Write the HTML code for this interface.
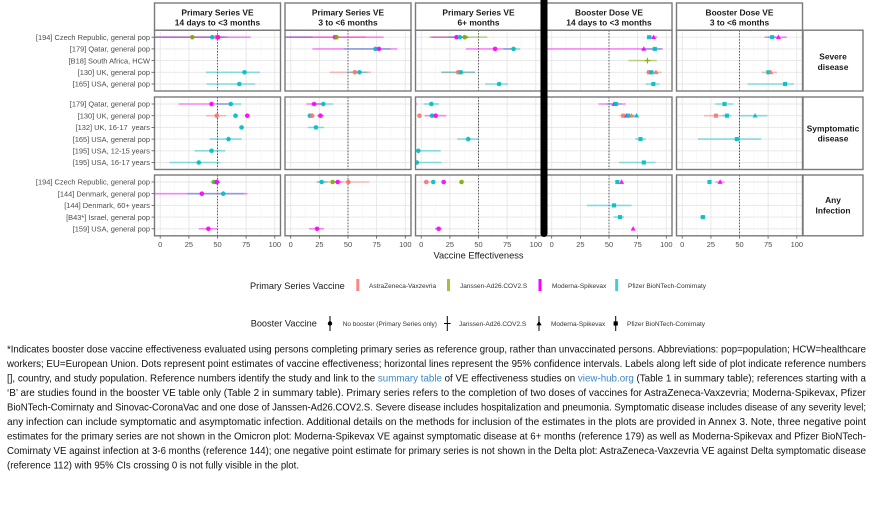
<!DOCTYPE html>
<html><head><meta charset="utf-8"><style>
html,body{margin:0;padding:0;background:#fff;}
svg{display:block;font-family:"Liberation Sans",Arial,sans-serif;}
.e{stroke-width:1.6px;stroke-opacity:.45;vector-effect:non-scaling-stroke;}
.lR{stroke:#F8766D}.lG{stroke:#7CAE00}.lM{stroke:#FF00FF}.lT{stroke:#00BFC4}
.fR{fill:#F8766D}.fG{fill:#7CAE00}.fM{fill:#FF00FF}.fT{fill:#00BFC4}
.p{opacity:.92}
.gM{stroke:#e6e6e6;stroke-width:.9px;vector-effect:non-scaling-stroke}
.gm{stroke:#f3f3f3;stroke-width:.5px;vector-effect:non-scaling-stroke}
.dt{stroke:#555;stroke-width:.8px;stroke-dasharray:1.3 1.3;}
.pb{fill:none;stroke:#7a7a7a;stroke-width:1.4}
.hd{font-weight:bold;font-size:8.4px;fill:#1a1a1a;text-anchor:middle}
.yl{font-size:7.45px;fill:#4d4d4d;text-anchor:end}
.xl{font-size:7.45px;fill:#4d4d4d;text-anchor:middle}
.tk{stroke:#555;stroke-width:.8}
.lk{font-size:6.5px;fill:#333}
.lt{font-size:9.2px;fill:#1a1a1a}
.nt{font-family:"Liberation Sans",Arial,sans-serif;font-size:10.5px;fill:#111}
.bl{fill:#3a87c8}
</style></head><body>
<svg width="876" height="505" viewBox="0 0 876 505" xmlns="http://www.w3.org/2000/svg">
<defs>
<g id="gv">
<line class="gm" x1="12.5" x2="12.5" y1="0" y2="70"/><line class="gm" x1="37.5" x2="37.5" y1="0" y2="70"/><line class="gm" x1="62.5" x2="62.5" y1="0" y2="70"/><line class="gm" x1="87.5" x2="87.5" y1="0" y2="70"/>
<line class="gM" x1="0" x2="0" y1="0" y2="70"/><line class="gM" x1="25" x2="25" y1="0" y2="70"/><line class="gM" x1="50" x2="50" y1="0" y2="70"/><line class="gM" x1="75" x2="75" y1="0" y2="70"/><line class="gM" x1="100" x2="100" y1="0" y2="70"/>
</g>
<g id="g5"><use href="#gv"/>
<line class="gM" x1="-6" x2="106" y1="6.11" y2="6.11"/><line class="gM" x1="-6" x2="106" y1="16.32" y2="16.32"/><line class="gM" x1="-6" x2="106" y1="26.54" y2="26.54"/><line class="gM" x1="-6" x2="106" y1="36.75" y2="36.75"/><line class="gM" x1="-6" x2="106" y1="46.97" y2="46.97"/>
<line class="dt" x1="50" x2="50" y1="0" y2="70"/>
</g>
<g id="g6"><use href="#g5"/><line class="gM" x1="-6" x2="106" y1="57.18" y2="57.18"/><line class="dt" x1="50" x2="50" y1="0" y2="70"/></g>
<circle id="c" r="2"/>
<path id="tr" d="M0,-2.4L2.2,1.6L-2.2,1.6Z"/>
<rect id="sq" x="-1.8" y="-1.8" width="3.6" height="3.6"/>
<path id="cr" d="M-2.5,0H2.5M0,-2.5V2.5" stroke-width="0.9" fill="none"/>
</defs>

<!-- headers -->
<rect x="154.5" y="3" width="126" height="27.2" fill="#fff" class="pb"/>
<rect x="285" y="3" width="126" height="27.2" fill="#fff" class="pb"/>
<rect x="415.5" y="3" width="126" height="27.2" fill="#fff" class="pb"/>
<rect x="546" y="3" width="126" height="27.2" fill="#fff" class="pb"/>
<rect x="676.5" y="3" width="126" height="27.2" fill="#fff" class="pb"/>
<text class="hd" x="217.5" y="15.3">Primary Series VE</text><text class="hd" x="217.5" y="25.7">14 days to &lt;3 months</text>
<text class="hd" x="348" y="15.3">Primary Series VE</text><text class="hd" x="348" y="25.7">3 to &lt;6 months</text>
<text class="hd" x="478.5" y="15.3">Primary Series VE</text><text class="hd" x="478.5" y="25.7">6+ months</text>
<text class="hd" x="609" y="15.3">Booster Dose VE</text><text class="hd" x="609" y="25.7">14 days to &lt;3 months</text>
<text class="hd" x="739.5" y="15.3">Booster Dose VE</text><text class="hd" x="739.5" y="25.7">3 to &lt;6 months</text>

<!-- right strips -->
<rect x="803" y="30.2" width="60" height="60.8" fill="#fff" class="pb"/>
<rect x="803" y="97" width="60" height="72.5" fill="#fff" class="pb"/>
<rect x="803" y="175" width="60" height="60.8" fill="#fff" class="pb"/>
<text class="hd" x="833" y="59.7">Severe</text><text class="hd" x="833" y="69.9">disease</text>
<text class="hd" x="833" y="131.3">Symptomatic</text><text class="hd" x="833" y="141.7">disease</text>
<text class="hd" x="833" y="203">Any</text><text class="hd" x="833" y="213.7">Infection</text>

<!-- ===== Panel 1 ===== -->
<svg x="154.5" y="30.2" width="126" height="60.8" viewBox="-5 0 110 53.08" preserveAspectRatio="none">
<use href="#g5"/>
<line class="e lR" x1="-6" x2="56" y1="6.11" y2="6.11"/><line class="e lT" x1="-6" x2="59" y1="6.11" y2="6.11"/><line class="e lM" x1="-6" x2="79" y1="6.11" y2="6.11"/>
<line class="e lT" x1="40" x2="87" y1="36.75" y2="36.75"/><line class="e lT" x1="40.4" x2="83" y1="46.97" y2="46.97"/>
<use href="#c" x="28" y="6.11" class="fG p"/><use href="#c" x="45.4" y="6.11" class="fT p"/><use href="#c" x="49" y="6.11" class="fR p"/><use href="#c" x="50.5" y="6.11" class="fM p"/>
<use href="#c" x="73.6" y="36.75" class="fT p"/><use href="#c" x="69" y="46.97" class="fT p"/>
</svg>
<svg x="154.5" y="97" width="126" height="72.5" viewBox="-5 0 110 63.29" preserveAspectRatio="none">
<use href="#g6"/>
<line class="e lM" x1="16" x2="63" y1="6.11" y2="6.11"/><line class="e lT" x1="49" x2="70.7" y1="6.11" y2="6.11"/>
<line class="e lR" x1="40" x2="57.6" y1="16.32" y2="16.32"/><line class="e lT" x1="64" x2="68" y1="16.32" y2="16.32"/><line class="e lM" x1="74" x2="78" y1="16.32" y2="16.32"/>
<line class="e lT" x1="69" x2="73" y1="26.54" y2="26.54"/><line class="e lT" x1="43" x2="71.2" y1="36.75" y2="36.75"/><line class="e lT" x1="30" x2="56.7" y1="46.97" y2="46.97"/><line class="e lT" x1="8" x2="52.4" y1="57.18" y2="57.18"/>
<use href="#c" x="44.8" y="6.11" class="fM p"/><use href="#c" x="61.6" y="6.11" class="fT p"/>
<use href="#c" x="49.4" y="16.32" class="fR p"/><use href="#c" x="65.7" y="16.32" class="fT p"/><use href="#c" x="76" y="16.32" class="fM p"/>
<use href="#c" x="71" y="26.54" class="fT p"/><use href="#c" x="59.6" y="36.75" class="fT p"/><use href="#c" x="44.8" y="46.97" class="fT p"/><use href="#c" x="33.7" y="57.18" class="fT p"/>
</svg>
<svg x="154.5" y="175" width="126" height="60.8" viewBox="-5 0 110 53.08" preserveAspectRatio="none">
<use href="#g5"/>
<line class="e lT" x1="44" x2="53" y1="6.11" y2="6.11"/><line class="e lM" x1="46" x2="52" y1="6.11" y2="6.11"/>
<line class="e lM" x1="-6" x2="76" y1="16.32" y2="16.32"/><line class="e lT" x1="23.5" x2="73" y1="16.32" y2="16.32"/>
<line class="e lM" x1="33.7" x2="50.3" y1="46.97" y2="46.97"/>
<use href="#c" x="46.8" y="6.11" class="fG p"/><use href="#c" x="48.9" y="6.11" class="fT p"/><use href="#c" x="49.5" y="6.11" class="fM p"/>
<use href="#c" x="36.3" y="16.32" class="fM p"/><use href="#c" x="55" y="16.32" class="fT p"/><use href="#c" x="42" y="46.97" class="fM p"/>
</svg>

<!-- ===== Panel 2 ===== -->
<svg x="285" y="30.2" width="126" height="60.8" viewBox="-5 0 110 53.08" preserveAspectRatio="none">
<use href="#g5"/>
<line class="e lR" x1="-6" x2="66" y1="6.11" y2="6.11"/><line class="e lT" x1="-6" x2="19" y1="6.11" y2="6.11"/><line class="e lM" x1="-6" x2="81" y1="6.11" y2="6.11"/>
<line class="e lM" x1="19" x2="93" y1="16.32" y2="16.32"/><line class="e lT" x1="46.8" x2="87" y1="16.32" y2="16.32"/>
<line class="e lR" x1="34" x2="70" y1="36.75" y2="36.75"/><line class="e lT" x1="49" x2="67" y1="36.75" y2="36.75"/>
<use href="#c" x="38.6" y="6.11" class="fM p"/><use href="#c" x="40" y="6.11" class="fG p"/>
<use href="#c" x="74" y="16.32" class="fT p"/><use href="#c" x="77" y="16.32" class="fM p"/>
<use href="#c" x="56" y="36.75" class="fR p"/><use href="#c" x="60" y="36.75" class="fT p"/>
</svg>
<svg x="285" y="97" width="126" height="72.5" viewBox="-5 0 110 63.29" preserveAspectRatio="none">
<use href="#g6"/>
<line class="e lT" x1="18" x2="37" y1="6.11" y2="6.11"/><line class="e lM" x1="13.7" x2="27" y1="6.11" y2="6.11"/>
<line class="e lT" x1="15" x2="19" y1="16.32" y2="16.32"/><line class="e lM" x1="23" x2="29" y1="16.32" y2="16.32"/>
<line class="e lT" x1="15" x2="29" y1="26.54" y2="26.54"/>
<use href="#c" x="28.4" y="6.11" class="fT p"/><use href="#c" x="20.4" y="6.11" class="fM p"/>
<use href="#c" x="16.7" y="16.32" class="fT p"/><use href="#c" x="18.7" y="16.32" class="fR p"/><use href="#c" x="26" y="16.32" class="fM p"/>
<use href="#c" x="22" y="26.54" class="fT p"/>
</svg>
<svg x="285" y="175" width="126" height="60.8" viewBox="-5 0 110 53.08" preserveAspectRatio="none">
<use href="#g5"/>
<line class="e lR" x1="22.5" x2="68.7" y1="6.11" y2="6.11"/><line class="e lT" x1="23" x2="32" y1="6.11" y2="6.11"/><line class="e lM" x1="38" x2="45" y1="6.11" y2="6.11"/>
<line class="e lM" x1="16" x2="29" y1="46.97" y2="46.97"/>
<use href="#c" x="27" y="6.11" class="fT p"/><use href="#c" x="36.6" y="6.11" class="fG p"/><use href="#c" x="41" y="6.11" class="fM p"/><use href="#c" x="50.3" y="6.11" class="fR p"/>
<use href="#c" x="23" y="46.97" class="fM p"/>
</svg>

<!-- ===== Panel 3 ===== -->
<svg x="415.5" y="30.2" width="126" height="60.8" viewBox="-5 0 110 53.08" preserveAspectRatio="none">
<use href="#g5"/>
<line class="e lG" x1="7" x2="57.8" y1="6.11" y2="6.11"/><line class="e lM" x1="8.8" x2="40.8" y1="6.11" y2="6.11"/><line class="e lT" x1="23" x2="41.6" y1="6.11" y2="6.11"/>
<line class="e lM" x1="39" x2="82" y1="16.32" y2="16.32"/><line class="e lT" x1="71.8" x2="86.5" y1="16.32" y2="16.32"/>
<line class="e lR" x1="17.6" x2="47" y1="36.75" y2="36.75"/><line class="e lT" x1="17.6" x2="47" y1="36.75" y2="36.75"/>
<line class="e lT" x1="55.7" x2="75.7" y1="46.97" y2="46.97"/>
<use href="#c" x="30.8" y="6.11" class="fM p"/><use href="#c" x="33.7" y="6.11" class="fT p"/><use href="#c" x="38" y="6.11" class="fG p"/>
<use href="#c" x="64.5" y="16.32" class="fM p"/><use href="#c" x="80.6" y="16.32" class="fT p"/>
<use href="#c" x="32.2" y="36.75" class="fR p"/><use href="#c" x="34.6" y="36.75" class="fT p"/>
<use href="#c" x="68" y="46.97" class="fT p"/>
</svg>
<svg x="415.5" y="97" width="126" height="72.5" viewBox="-5 0 110 63.29" preserveAspectRatio="none">
<use href="#g6"/>
<line class="e lM" x1="-6" x2="-3.5" y1="6.11" y2="6.11"/><line class="e lT" x1="2" x2="15.5" y1="6.11" y2="6.11"/>
<line class="e lT" x1="7" x2="12" y1="16.32" y2="16.32"/><line class="e lM" x1="3" x2="22" y1="16.32" y2="16.32"/>
<line class="e lT" x1="31.3" x2="50" y1="36.75" y2="36.75"/>
<line class="e lT" x1="-6" x2="17" y1="46.97" y2="46.97"/><line class="e lT" x1="-6" x2="17.6" y1="57.18" y2="57.18"/>
<use href="#c" x="8.8" y="6.11" class="fT p"/>
<use href="#c" x="-1.5" y="16.32" class="fR p"/><use href="#c" x="9.4" y="16.32" class="fT p"/><use href="#c" x="12.6" y="16.32" class="fM p"/>
<use href="#c" x="41" y="36.75" class="fT p"/><use href="#c" x="-2.6" y="46.97" class="fT p"/><use href="#c" x="-3.8" y="57.18" class="fT p"/>
</svg>
<svg x="415.5" y="175" width="126" height="60.8" viewBox="-5 0 110 53.08" preserveAspectRatio="none">
<use href="#g5"/>
<line class="e lR" x1="2" x2="8" y1="6.11" y2="6.11"/><line class="e lM" x1="12" x2="18" y1="46.97" y2="46.97"/>
<use href="#c" x="4.4" y="6.11" class="fR p"/><use href="#c" x="10.5" y="6.11" class="fT p"/><use href="#c" x="19.6" y="6.11" class="fM p"/><use href="#c" x="35.2" y="6.11" class="fG p"/>
<use href="#c" x="15.2" y="46.97" class="fM p"/>
</svg>

<!-- ===== Panel 4 ===== -->
<svg x="546" y="30.2" width="126" height="60.8" viewBox="-5 0 110 53.08" preserveAspectRatio="none">
<use href="#g5"/>
<line class="e lM" x1="85" x2="92" y1="6.11" y2="6.11"/><line class="e lT" x1="83" x2="87" y1="6.11" y2="6.11"/>
<line class="e lM" x1="-6" x2="97" y1="16.32" y2="16.32"/><line class="e lT" x1="78" x2="96" y1="16.32" y2="16.32"/>
<line class="e lG" x1="67" x2="91.7" y1="26.54" y2="26.54"/>
<line class="e lR" x1="82" x2="96" y1="36.75" y2="36.75"/><line class="e lT" x1="83" x2="93" y1="36.75" y2="36.75"/>
<line class="e lT" x1="82" x2="94" y1="46.97" y2="46.97"/>
<use href="#sq" x="85" y="6.11" class="fT p"/><use href="#tr" x="89" y="6.11" class="fM p"/>
<use href="#tr" x="80.4" y="16.32" class="fM p"/><use href="#sq" x="90" y="16.32" class="fT p"/>
<use href="#cr" x="83.5" y="26.54" class="lG"/>
<use href="#sq" x="85" y="36.75" class="fR p"/><use href="#sq" x="87" y="36.75" class="fT p"/><use href="#tr" x="91" y="36.75" class="fR p"/>
<use href="#sq" x="88.7" y="46.97" class="fT p"/>
</svg>
<svg x="546" y="97" width="126" height="72.5" viewBox="-5 0 110 63.29" preserveAspectRatio="none">
<use href="#g6"/>
<line class="e lM" x1="40.8" x2="64.5" y1="6.11" y2="6.11"/><line class="e lT" x1="48" x2="61" y1="6.11" y2="6.11"/>
<line class="e lR" x1="59" x2="72" y1="16.32" y2="16.32"/><line class="e lT" x1="62" x2="76" y1="16.32" y2="16.32"/>
<line class="e lT" x1="73" x2="82" y1="36.75" y2="36.75"/><line class="e lT" x1="58.7" x2="90.5" y1="57.18" y2="57.18"/>
<use href="#tr" x="54.4" y="6.11" class="fM p"/><use href="#sq" x="56" y="6.11" class="fT p"/>
<use href="#sq" x="62.5" y="16.32" class="fR p"/><use href="#tr" x="65.4" y="16.32" class="fM p"/><use href="#sq" x="66.8" y="16.32" class="fT p"/><use href="#tr" x="69.7" y="16.32" class="fR p"/><use href="#tr" x="74" y="16.32" class="fT p"/>
<use href="#sq" x="77.5" y="36.75" class="fT p"/><use href="#sq" x="80.4" y="57.18" class="fT p"/>
</svg>
<svg x="546" y="175" width="126" height="60.8" viewBox="-5 0 110 53.08" preserveAspectRatio="none">
<use href="#g5"/>
<line class="e lT" x1="30.8" x2="69.7" y1="26.54" y2="26.54"/><line class="e lT" x1="54" x2="63" y1="36.75" y2="36.75"/>
<use href="#sq" x="57.3" y="6.11" class="fT p"/><use href="#tr" x="61" y="6.11" class="fM p"/>
<use href="#sq" x="54.4" y="26.54" class="fT p"/><use href="#sq" x="59.6" y="36.75" class="fT p"/><use href="#tr" x="71.1" y="46.97" class="fM p"/>
</svg>

<!-- ===== Panel 5 ===== -->
<svg x="676.5" y="30.2" width="126" height="60.8" viewBox="-5 0 110 53.08" preserveAspectRatio="none">
<use href="#g5"/>
<line class="e lM" x1="71.8" x2="91.3" y1="6.11" y2="6.11"/><line class="e lT" x1="75" x2="82" y1="6.11" y2="6.11"/>
<line class="e lR" x1="69.5" x2="82.6" y1="36.75" y2="36.75"/><line class="e lT" x1="57" x2="97.6" y1="46.97" y2="46.97"/>
<use href="#sq" x="78.5" y="6.11" class="fT p"/><use href="#tr" x="84" y="6.11" class="fM p"/>
<use href="#sq" x="75.2" y="36.75" class="fT p"/><use href="#tr" x="77.3" y="36.75" class="fR p"/>
<use href="#sq" x="89.8" y="46.97" class="fT p"/>
</svg>
<svg x="676.5" y="97" width="126" height="72.5" viewBox="-5 0 110 63.29" preserveAspectRatio="none">
<use href="#g6"/>
<line class="e lT" x1="28.8" x2="44.7" y1="6.11" y2="6.11"/>
<line class="e lR" x1="19" x2="36.6" y1="16.32" y2="16.32"/><line class="e lT" x1="35" x2="43" y1="16.32" y2="16.32"/><line class="e lT" x1="50" x2="74.4" y1="16.32" y2="16.32"/>
<line class="e lT" x1="13.7" x2="68.9" y1="36.75" y2="36.75"/>
<use href="#sq" x="36.9" y="6.11" class="fT p"/>
<use href="#sq" x="29.4" y="16.32" class="fR p"/><use href="#sq" x="39" y="16.32" class="fT p"/><use href="#tr" x="63.6" y="16.32" class="fT p"/>
<use href="#sq" x="47.7" y="36.75" class="fT p"/>
</svg>
<svg x="676.5" y="175" width="126" height="60.8" viewBox="-5 0 110 53.08" preserveAspectRatio="none">
<use href="#g5"/>
<line class="e lM" x1="29" x2="37" y1="6.11" y2="6.11"/><line class="e lT" x1="15.5" x2="20.5" y1="36.75" y2="36.75"/>
<use href="#sq" x="23.8" y="6.11" class="fT p"/><use href="#tr" x="33.1" y="6.11" class="fM p"/>
<use href="#sq" x="18" y="36.75" class="fT p"/>
</svg>

<!-- panel borders -->
<g class="pb">
<rect x="154.5" y="30.2" width="126" height="60.8"/><rect x="285" y="30.2" width="126" height="60.8"/><rect x="415.5" y="30.2" width="126" height="60.8"/><rect x="546" y="30.2" width="126" height="60.8"/><rect x="676.5" y="30.2" width="126" height="60.8"/>
<rect x="154.5" y="97" width="126" height="72.5"/><rect x="285" y="97" width="126" height="72.5"/><rect x="415.5" y="97" width="126" height="72.5"/><rect x="546" y="97" width="126" height="72.5"/><rect x="676.5" y="97" width="126" height="72.5"/>
<rect x="154.5" y="175" width="126" height="60.8"/><rect x="285" y="175" width="126" height="60.8"/><rect x="415.5" y="175" width="126" height="60.8"/><rect x="546" y="175" width="126" height="60.8"/><rect x="676.5" y="175" width="126" height="60.8"/>
</g>

<!-- black divider -->
<rect x="540.5" y="-10" width="7" height="247" rx="3.5" fill="#000"/>

<!-- y axis labels and ticks -->
<g class="tk">
<line x1="151.5" x2="154.5" y1="37.2" y2="37.2"/><line x1="151.5" x2="154.5" y1="48.9" y2="48.9"/><line x1="151.5" x2="154.5" y1="60.6" y2="60.6"/><line x1="151.5" x2="154.5" y1="72.3" y2="72.3"/><line x1="151.5" x2="154.5" y1="84" y2="84"/>
<line x1="151.5" x2="154.5" y1="104" y2="104"/><line x1="151.5" x2="154.5" y1="115.7" y2="115.7"/><line x1="151.5" x2="154.5" y1="127.4" y2="127.4"/><line x1="151.5" x2="154.5" y1="139.1" y2="139.1"/><line x1="151.5" x2="154.5" y1="150.8" y2="150.8"/><line x1="151.5" x2="154.5" y1="162.5" y2="162.5"/>
<line x1="151.5" x2="154.5" y1="182" y2="182"/><line x1="151.5" x2="154.5" y1="193.7" y2="193.7"/><line x1="151.5" x2="154.5" y1="205.4" y2="205.4"/><line x1="151.5" x2="154.5" y1="217.1" y2="217.1"/><line x1="151.5" x2="154.5" y1="228.8" y2="228.8"/>
</g>
<text class="yl" x="150" y="39.9">[194] Czech Republic, general pop</text>
<text class="yl" x="150" y="51.6">[179] Qatar, general pop</text>
<text class="yl" x="150" y="63.3">[B18] South Africa, HCW</text>
<text class="yl" x="150" y="75">[130] UK, general pop</text>
<text class="yl" x="150" y="86.7">[165] USA, general pop</text>
<text class="yl" x="150" y="106.7">[179] Qatar, general pop</text>
<text class="yl" x="150" y="118.4">[130] UK, general pop</text>
<text class="yl" x="150" y="130.1" xml:space="preserve">[132] UK, 16-17  years</text>
<text class="yl" x="150" y="141.8">[165] USA, general pop</text>
<text class="yl" x="150" y="153.5">[195] USA, 12-15 years</text>
<text class="yl" x="150" y="165.2">[195] USA, 16-17 years</text>
<text class="yl" x="150" y="184.7">[194] Czech Republic, general pop</text>
<text class="yl" x="150" y="196.4">[144] Denmark, general pop</text>
<text class="yl" x="150" y="208.1">[144] Denmark, 60+ years</text>
<text class="yl" x="150" y="219.8">[B43*] Israel, general pop</text>
<text class="yl" x="150" y="231.5">[159] USA, general pop</text>

<!-- x axis ticks and labels -->
<g class="tk">
<line x1="160.2" x2="160.2" y1="235.8" y2="238.6"/><line x1="188.9" x2="188.9" y1="235.8" y2="238.6"/><line x1="217.5" x2="217.5" y1="235.8" y2="238.6"/><line x1="246.1" x2="246.1" y1="235.8" y2="238.6"/><line x1="274.8" x2="274.8" y1="235.8" y2="238.6"/>
<line x1="290.7" x2="290.7" y1="235.8" y2="238.6"/><line x1="319.4" x2="319.4" y1="235.8" y2="238.6"/><line x1="348" x2="348" y1="235.8" y2="238.6"/><line x1="376.6" x2="376.6" y1="235.8" y2="238.6"/><line x1="405.3" x2="405.3" y1="235.8" y2="238.6"/>
<line x1="421.2" x2="421.2" y1="235.8" y2="238.6"/><line x1="449.9" x2="449.9" y1="235.8" y2="238.6"/><line x1="478.5" x2="478.5" y1="235.8" y2="238.6"/><line x1="507.1" x2="507.1" y1="235.8" y2="238.6"/><line x1="535.8" x2="535.8" y1="235.8" y2="238.6"/>
<line x1="551.7" x2="551.7" y1="235.8" y2="238.6"/><line x1="580.4" x2="580.4" y1="235.8" y2="238.6"/><line x1="609" x2="609" y1="235.8" y2="238.6"/><line x1="637.6" x2="637.6" y1="235.8" y2="238.6"/><line x1="666.3" x2="666.3" y1="235.8" y2="238.6"/>
<line x1="682.2" x2="682.2" y1="235.8" y2="238.6"/><line x1="710.9" x2="710.9" y1="235.8" y2="238.6"/><line x1="739.5" x2="739.5" y1="235.8" y2="238.6"/><line x1="768.1" x2="768.1" y1="235.8" y2="238.6"/><line x1="796.8" x2="796.8" y1="235.8" y2="238.6"/>
</g>
<g class="xl">
<text x="160.2" y="246.8">0</text><text x="188.9" y="246.8">25</text><text x="217.5" y="246.8">50</text><text x="246.1" y="246.8">75</text><text x="274.8" y="246.8">100</text>
<text x="290.7" y="246.8">0</text><text x="319.4" y="246.8">25</text><text x="348" y="246.8">50</text><text x="376.6" y="246.8">75</text><text x="405.3" y="246.8">100</text>
<text x="421.2" y="246.8">0</text><text x="449.9" y="246.8">25</text><text x="478.5" y="246.8">50</text><text x="507.1" y="246.8">75</text><text x="535.8" y="246.8">100</text>
<text x="551.7" y="246.8">0</text><text x="580.4" y="246.8">25</text><text x="609" y="246.8">50</text><text x="637.6" y="246.8">75</text><text x="666.3" y="246.8">100</text>
<text x="682.2" y="246.8">0</text><text x="710.9" y="246.8">25</text><text x="739.5" y="246.8">50</text><text x="768.1" y="246.8">75</text><text x="796.8" y="246.8">100</text>
</g>
<text x="478.5" y="258.3" font-size="9.3" fill="#1a1a1a" text-anchor="middle">Vaccine Effectiveness</text>

<!-- legends -->
<text class="lt" x="250" y="289">Primary Series Vaccine</text>
<rect x="356.3" y="279" width="3" height="12" fill="#F8766D" opacity=".85"/>
<rect x="447" y="279" width="3" height="12" fill="#7CAE00" opacity=".75"/>
<rect x="538.5" y="279" width="3" height="12" fill="#FF00FF"/>
<rect x="615.2" y="279" width="3" height="12" fill="#00BFC4" opacity=".75"/>
<text class="lk" x="369" y="288">AstraZeneca-Vaxzevria</text>
<text class="lk" x="460" y="288">Janssen-Ad26.COV2.S</text>
<text class="lk" x="552" y="288">Moderna-Spikevax</text>
<text class="lk" x="628" y="288">Pfizer BioNTech-Comirnaty</text>

<text class="lt" x="250.7" y="326.6">Booster Vaccine</text>
<g stroke="#000" stroke-width="1">
<line x1="330" x2="330" y1="316" y2="331"/>
<line x1="447.3" x2="447.3" y1="316" y2="331"/><line x1="444" x2="450.6" y1="323.5" y2="323.5"/>
<line x1="539" x2="539" y1="316" y2="331"/>
<line x1="615.7" x2="615.7" y1="316" y2="331"/>
</g>
<circle cx="330" cy="323.5" r="2.2" fill="#000"/>
<path d="M539,320.8L541.6,325.4L536.4,325.4Z" fill="#000"/>
<rect x="613.6" y="321.4" width="4.2" height="4.2" fill="#000"/>
<text class="lk" x="342.7" y="326">No booster (Primary Series only)</text>
<text class="lk" x="459" y="326">Janssen-Ad26.COV2.S</text>
<text class="lk" x="551" y="326">Moderna-Spikevax</text>
<text class="lk" x="627" y="326">Pfizer BioNTech-Comirnaty</text>

<!-- footnote -->
<g class="nt">
<text x="7" y="352.4" textLength="859" lengthAdjust="spacingAndGlyphs">*Indicates booster dose vaccine effectiveness evaluated using persons completing primary series as reference group, rather than unvaccinated persons. Abbreviations: pop=population; HCW=healthcare</text>
<text x="7" y="366.9" textLength="859" lengthAdjust="spacingAndGlyphs">workers; EU=European Union. Dots represent point estimates of vaccine effectiveness; horizontal lines represent the 95% confidence intervals. Labels along left side of plot indicate reference numbers</text>
<text x="7" y="381.4" textLength="859" lengthAdjust="spacingAndGlyphs">[], country, and study population. Reference numbers identify the study and link to the <tspan class="bl">summary table</tspan> of VE effectiveness studies on <tspan class="bl">view-hub.org</tspan> (Table 1 in summary table); references starting with a</text>
<text x="7" y="395.9" textLength="859" lengthAdjust="spacingAndGlyphs">‘B’ are studies found in the booster VE table only (Table 2 in summary table). Primary series refers to the completion of two doses of vaccines for AstraZeneca-Vaxzevria; Moderna-Spikevax, Pfizer</text>
<text x="7" y="410.4" textLength="859" lengthAdjust="spacingAndGlyphs">BioNTech-Comirnaty and Sinovac-CoronaVac and one dose of Janssen-Ad26.COV2.S. Severe disease includes hospitalization and pneumonia. Symptomatic disease includes disease of any severity level;</text>
<text x="7" y="424.9" textLength="859" lengthAdjust="spacingAndGlyphs">any infection can include symptomatic and asymptomatic infection. Additional details on the methods for inclusion of the estimates in the plots are provided in Annex 3. Note, three negative point</text>
<text x="7" y="439.4" textLength="859" lengthAdjust="spacingAndGlyphs">estimates for the primary series are not shown in the Omicron plot: Moderna-Spikevax VE against symptomatic disease at 6+ months (reference 179) as well as Moderna-Spikevax and Pfizer BioNTech-</text>
<text x="7" y="453.9" textLength="859" lengthAdjust="spacingAndGlyphs">Comirnaty VE against infection at 3-6 months (reference 144); one negative point estimate for primary series is not shown in the Delta plot: AstraZeneca-Vaxzevria VE against Delta symptomatic disease</text>
<text x="7" y="468.4" textLength="292" lengthAdjust="spacingAndGlyphs">(reference 112) with 95% CIs crossing 0 is not fully visible in the plot.</text>
</g>
</svg>
</body></html>
